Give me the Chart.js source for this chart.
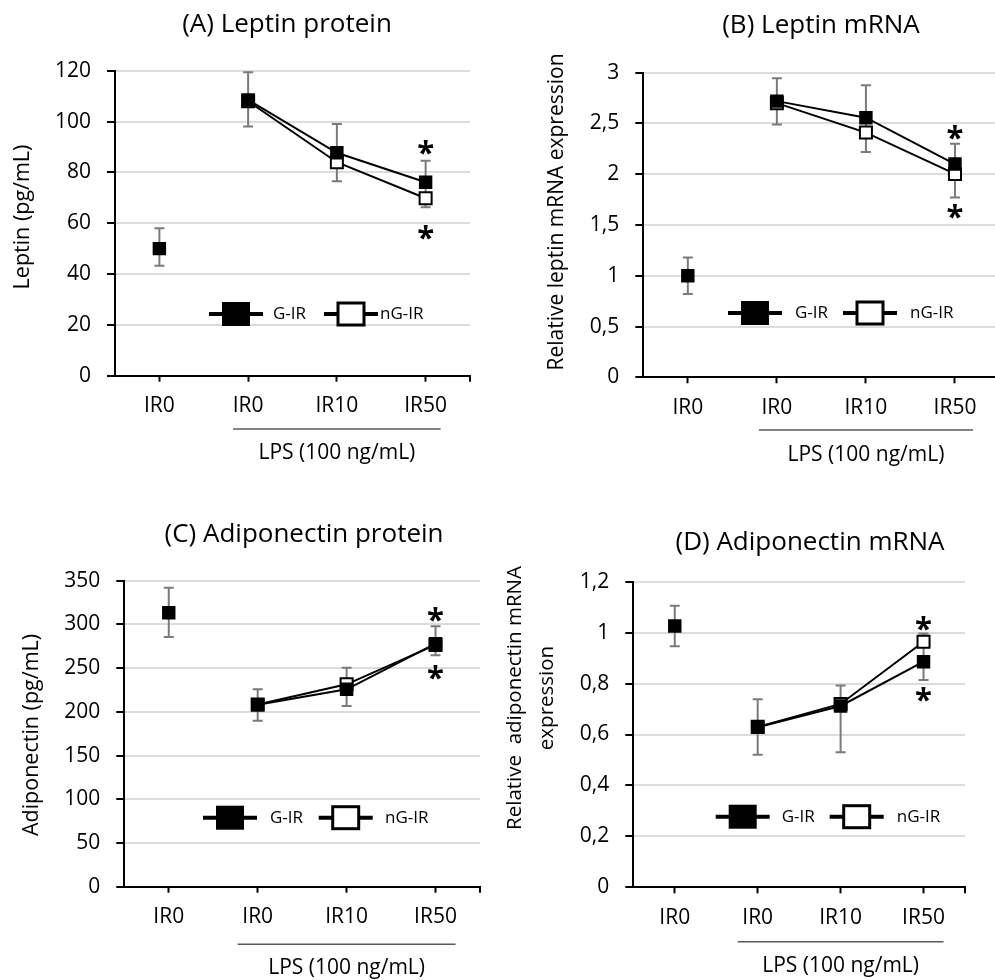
<!DOCTYPE html>
<html>
<head>
<meta charset="utf-8">
<script src="https://cdn.jsdelivr.net/npm/chart.js@4.4.1/dist/chart.umd.min.js"></script>
<style>
html,body{margin:0;padding:0;background:#fff;overflow:hidden;width:995px;height:980px;}
canvas{position:absolute;}
</style>
</head>
<body>
<canvas id="cA" width="495" height="490" style="left:0;top:0"></canvas>
<canvas id="cB" width="510" height="490" style="left:500px;top:0"></canvas>
<canvas id="cC" width="495" height="490" style="left:0;top:490px"></canvas>
<canvas id="cD" width="495" height="490" style="left:500px;top:490px"></canvas>
<script>
// ---- data ----
const categories = ['IR0', 'IR0', 'IR10', 'IR50'];
const seriesNames = ['G-IR', 'nG-IR'];
const groupLabel = 'LPS (100 ng/mL)';

// (A) Leptin protein
const A_control = [50, null, null, null];
const A_GIR = [null, 108.5, 87.7, 76.1];
const A_nGIR = [null, 108, 84, 69.8];
const A_errHigh = [58, 119.4, 99, 84.6];
const A_errLow = [43.3, 98, 76.5, 66.3];
const A_stars = [90.5, 57];
const A_yTicks = [0, 20, 40, 60, 80, 100, 120];

// (B) Leptin mRNA
const B_control = [1.0, null, null, null];
const B_GIR = [null, 2.72, 2.557, 2.10];
const B_nGIR = [null, 2.70, 2.41, 2.003];
const B_errHigh = [1.18, 2.945, 2.877, 2.30];
const B_errLow = [0.82, 2.49, 2.22, 1.77];
const B_stars = [2.42, 1.65];
const B_yTicks = ['0', '0,5', '1', '1,5', '2', '2,5', '3'];

// (C) Adiponectin protein
const C_control = [313.4, null, null, null];
const C_GIR = [null, 208, 225.8, 278];
const C_nGIR = [null, 208.5, 231.5, 276.5];
const C_errHigh = [342, 225.8, 250.5, 297.8];
const C_errLow = [285.6, 189.9, 206.7, 264.7];
const C_stars = [312.7, 246];
const C_yTicks = [0, 50, 100, 150, 200, 250, 300, 350];

// (D) Adiponectin mRNA
const D_control = [1.026, null, null, null];
const D_GIR = [null, 0.628, 0.712, 0.886];
const D_nGIR = [null, 0.63, 0.72, 0.964];
const D_errHigh = [1.106, 0.738, 0.792, 0.997];
const D_errLow = [0.947, 0.52, 0.53, 0.814];
const D_stars = [1.04, 0.764];
const D_yTicks = ['0', '0,2', '0,4', '0,6', '0,8', '1', '1,2'];

const FONT = "'Open Sans', 'Liberation Sans', sans-serif";

const decor = {
  id: 'decor',
  beforeDatasetsDraw(chart, args, o) {
    const ctx = chart.ctx, x = chart.scales.x, y = chart.scales.y;
    ctx.save();
    ctx.strokeStyle = '#7a7a7a';
    ctx.lineWidth = 2;
    for (let i = 0; i < o.errHigh.length; i++) {
      const px = x.getPixelForValue(i);
      const yh = y.getPixelForValue(o.errHigh[i]);
      const yl = y.getPixelForValue(o.errLow[i]);
      ctx.beginPath();
      ctx.moveTo(px, yh); ctx.lineTo(px, yl);
      ctx.moveTo(px - 5, yh); ctx.lineTo(px + 5, yh);
      ctx.moveTo(px - 5, yl); ctx.lineTo(px + 5, yl);
      ctx.stroke();
    }
    ctx.restore();
  },
  afterDraw(chart, args, o) {
    const ctx = chart.ctx, x = chart.scales.x, y = chart.scales.y, ca = chart.chartArea;
    ctx.save();
    ctx.fillStyle = '#000';
    // right end tick on x axis
    ctx.strokeStyle = '#000'; ctx.lineWidth = 2;
    ctx.beginPath(); ctx.moveTo(ca.right, ca.bottom); ctx.lineTo(ca.right, ca.bottom + 6); ctx.stroke();
    // title
    ctx.font = `${o.titleSize}px ${FONT}`;
    ctx.textAlign = 'center'; ctx.textBaseline = 'middle';
    ctx.fillText(o.title, o.titleX, o.titleY);
    // y title
    ctx.font = `${o.yTitleSize}px ${FONT}`;
    o.yTitle.forEach((t, k) => {
      ctx.save();
      ctx.translate(o.yTitleX[k], o.yTitleY);
      ctx.rotate(-Math.PI / 2);
      ctx.fillText(t, 0, 0);
      ctx.restore();
    });
    // group line + label
    const gx0 = x.getPixelForValue(1) - o.groupPad, gx1 = x.getPixelForValue(3) + o.groupPad;
    ctx.strokeStyle = '#5a5a5a'; ctx.lineWidth = 1.5;
    ctx.beginPath(); ctx.moveTo(gx0, o.groupLineY); ctx.lineTo(gx1, o.groupLineY); ctx.stroke();
    ctx.font = `21px ${FONT}`;
    ctx.fillText(groupLabel, (gx0 + gx1) / 2, o.groupTextY);
    // legend
    [0, 1].forEach(k => {
      const cx = o.legendX[k], cy = o.legendY;
      ctx.strokeStyle = '#000'; ctx.lineWidth = 4;
      ctx.beginPath(); ctx.moveTo(cx - 27, cy); ctx.lineTo(cx + 27, cy); ctx.stroke();
      if (k === 0) {
        ctx.fillStyle = '#000'; ctx.fillRect(cx - 14, cy - 12, 28, 24);
      } else {
        ctx.fillStyle = '#fff'; ctx.fillRect(cx - 13, cy - 11, 26, 22);
        ctx.lineWidth = 3; ctx.strokeRect(cx - 13, cy - 11, 26, 22);
      }
      ctx.fillStyle = '#000';
      ctx.font = `17px ${FONT}`;
      ctx.textAlign = 'left';
      ctx.fillText(seriesNames[k], o.legendTextX[k], cy);
      ctx.textAlign = 'center';
    });
    // significance stars
    ctx.font = `bold 31px ${FONT}`;
    const sx = x.getPixelForValue(3);
    o.stars.forEach(v => ctx.fillText('*', sx, y.getPixelForValue(v) + 8));
    ctx.restore();
  }
};

function makeChart(id, cfg) {
  const tickLabels = cfg.yTicks.map(String);
  new Chart(document.getElementById(id), {
    type: 'line',
    data: {
      labels: categories,
      datasets: [
        {label: 'ctrl', data: cfg.control, showLine: false, pointStyle: 'rect', pointRadius: 9.5,
         backgroundColor: '#000', borderColor: '#000', borderWidth: 0, order: 0},
        {label: seriesNames[0], data: cfg.gir, pointStyle: 'rect', pointRadius: 9.5,
         backgroundColor: '#000', borderColor: '#000', pointBorderWidth: 0, borderWidth: 2, order: 1},
        {label: seriesNames[1], data: cfg.ngir, pointStyle: 'rect', pointRadius: 8.5,
         backgroundColor: '#fff', borderColor: '#000', pointBorderWidth: 2, borderWidth: 2, order: 2}
      ]
    },
    options: {
      responsive: false,
      animation: false,
      devicePixelRatio: 1,
      layout: {padding: {left: 0, right: cfg.padRight, top: cfg.padTop, bottom: cfg.padBottom}},
      plugins: {
        legend: {display: false}, tooltip: {enabled: false},
        decor: cfg.decor
      },
      scales: {
        x: {
          type: 'category', offset: true,
          grid: {display: true, drawOnChartArea: false, offset: false, tickColor: '#000', tickLength: 6, tickWidth: 2},
          border: {display: true, color: '#000', width: 2},
          ticks: {color: '#000', font: {family: FONT, size: 21}, padding: 12, maxRotation: 0},
          afterFit: s => { s.height = 70; }
        },
        y: {
          min: 0, max: cfg.yMax,
          grid: {color: '#dcdcdc', lineWidth: 2, tickColor: '#000', tickLength: 8, tickWidth: 2},
          border: {display: true, color: '#000', width: 2},
          ticks: {stepSize: cfg.yStep, color: '#000', font: {family: FONT, size: 21}, padding: 16,
                  callback: (v, i) => tickLabels[i]},
          afterFit: s => { s.width = cfg.yWidth; }
        }
      }
    },
    plugins: [decor]
  });
}

makeChart('cA', {
  control: A_control, gir: A_GIR, ngir: A_nGIR, yTicks: A_yTicks, yMax: 120, yStep: 20,
  yWidth: 115, padRight: 25, padTop: 70.7, padBottom: 44.3,
  decor: {errHigh: A_errHigh, errLow: A_errLow, stars: A_stars,
    title: '(A) Leptin protein', titleSize: 26, titleX: 287, titleY: 25,
    yTitle: ['Leptin (pg/mL)'], yTitleSize: 21.5, yTitleX: [23], yTitleY: 217,
    groupPad: 15, groupLineY: 429, groupTextY: 453,
    legendX: [236, 351], legendY: 314, legendTextX: [273, 380]}
});
makeChart('cB', {
  control: B_control, gir: B_GIR, ngir: B_nGIR, yTicks: B_yTicks, yMax: 3, yStep: 0.5,
  yWidth: 143.3, padRight: 7, padTop: 72.7, padBottom: 42.7,
  decor: {errHigh: B_errHigh, errLow: B_errLow, stars: B_stars,
    title: '(B) Leptin mRNA', titleSize: 26, titleX: 321, titleY: 26,
    yTitle: ['Relative leptin mRNA expression'], yTitleSize: 21, yTitleX: [57], yTitleY: 212,
    groupPad: 18, groupLineY: 430, groupTextY: 455,
    legendX: [255, 370], legendY: 313, legendTextX: [295, 410]}
});
makeChart('cC', {
  control: C_control, gir: C_GIR, ngir: C_nGIR, yTicks: C_yTicks, yMax: 350, yStep: 50,
  yWidth: 124.3, padRight: 15, padTop: 90.7, padBottom: 23.3,
  decor: {errHigh: C_errHigh, errLow: C_errLow, stars: C_stars,
    title: '(C) Adiponectin protein', titleSize: 26, titleX: 304, titleY: 45,
    yTitle: ['Adiponectin (pg/mL)'], yTitleSize: 21.5, yTitleX: [32], yTitleY: 245,
    groupPad: 20, groupLineY: 454.3, groupTextY: 478,
    legendX: [230, 345.7], legendY: 327.7, legendTextX: [270, 385]}
});
makeChart('cD', {
  control: D_control, gir: D_GIR, ngir: D_nGIR, yTicks: D_yTicks, yMax: 1.2, yStep: 0.2,
  yWidth: 133.3, padRight: 30, padTop: 91.7, padBottom: 22.7,
  decor: {errHigh: D_errHigh, errLow: D_errLow, stars: D_stars,
    title: '(D) Adiponectin mRNA', titleSize: 26, titleX: 310, titleY: 53,
    yTitle: ['Relative  adiponectin mRNA', 'expression'], yTitleSize: 20.5, yTitleX: [15, 46.7], yTitleY: 208,
    groupPad: 20, groupLineY: 451.7, groupTextY: 476,
    legendX: [242.7, 356.7], legendY: 326.7, legendTextX: [281.7, 396.7]}
});
</script>
</body>
</html>
